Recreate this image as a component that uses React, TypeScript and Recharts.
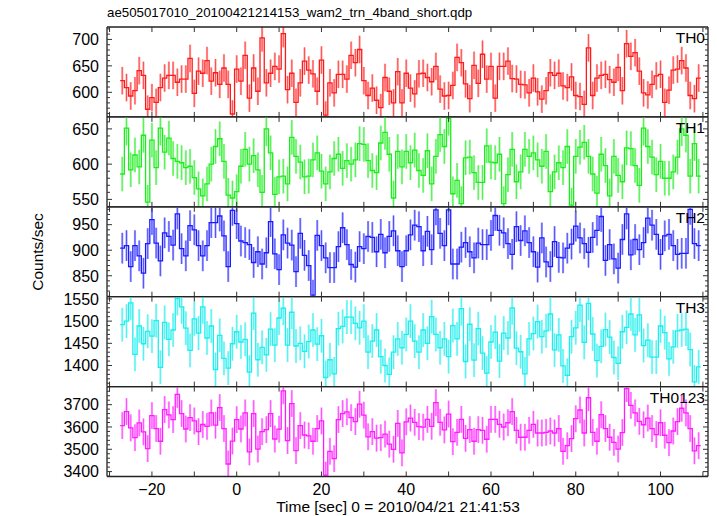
import { ComposedChart, ErrorBar, Line, Scatter, XAxis, YAxis } from 'recharts';

const W = 717;
const H = 516;
const PLOT_LEFT = 107;
const PLOT_RIGHT = 708;
const PLOT_TOP = 27;
const PANEL_H = 89.9;
const FONT = "'Liberation Sans', Arial, Helvetica, sans-serif";

// bin centres, 1 s bins
const times = [
  -27, -26, -25, -24, -23, -22, -21, -20, -19, -18, -17, -16, -15, -14, -13, -12, -11, -10, -9, -8,
  -7, -6, -5, -4, -3, -2, -1, 0, 1, 2, 3, 4, 5, 6, 7, 8, 9, 10, 11, 12,
  13, 14, 15, 16, 17, 18, 19, 20, 21, 22, 23, 24, 25, 26, 27, 28, 29, 30, 31, 32,
  33, 34, 35, 36, 37, 38, 39, 40, 41, 42, 43, 44, 45, 46, 47, 48, 49, 50, 51, 52,
  53, 54, 55, 56, 57, 58, 59, 60, 61, 62, 63, 64, 65, 66, 67, 68, 69, 70, 71, 72,
  73, 74, 75, 76, 77, 78, 79, 80, 81, 82, 83, 84, 85, 86, 87, 88, 89, 90, 91, 92,
  93, 94, 95, 96, 97, 98, 99, 100, 101, 102, 103, 104, 105, 106, 107, 108, 109,
];

const th0 = [
  622, 609, 593, 603, 641, 632, 568, 590, 581, 609,
  627, 632, 632, 619, 625, 625, 664, 598, 640, 636,
  660, 621, 637, 615, 646, 615, 559, 644, 621, 670,
  589, 646, 602, 703, 618, 636, 649, 644, 711, 605,
  636, 581, 618, 659, 642, 635, 602, 661, 557, 618,
  599, 634, 634, 625, 670, 656, 681, 622, 594, 608,
  585, 571, 628, 602, 580, 639, 580, 636, 608, 597,
  635, 636, 628, 620, 649, 606, 593, 594, 613, 666,
  656, 616, 588, 651, 617, 672, 625, 649, 589, 649,
  649, 659, 626, 625, 615, 614, 599, 627, 601, 587,
  603, 637, 632, 636, 612, 609, 629, 594, 592, 577,
  684, 594, 627, 632, 634, 624, 619, 647, 603, 692,
  668, 675, 640, 599, 595, 615, 631, 634, 581, 604,
  642, 644, 660, 646, 594, 588, 627,
];

const th1 = [
  586, 651, 592, 613, 596, 641, 546, 634, 595, 651,
  617, 637, 608, 604, 602, 595, 597, 581, 565, 555,
  572, 600, 625, 636, 604, 556, 552, 561, 597, 621,
  600, 612, 592, 560, 650, 616, 557, 582, 583, 572,
  638, 611, 603, 582, 583, 606, 616, 590, 572, 589,
  608, 614, 594, 605, 600, 606, 629, 628, 605, 591,
  588, 630, 645, 614, 552, 618, 596, 618, 602, 620,
  591, 584, 619, 572, 611, 642, 625, 665, 558, 577,
  544, 609, 610, 588, 574, 574, 626, 603, 602, 614,
  544, 585, 621, 575, 589, 621, 611, 616, 606, 597,
  618, 561, 589, 602, 595, 625, 542, 611, 624, 631,
  611, 586, 559, 614, 598, 555, 611, 584, 575, 623,
  622, 598, 570, 651, 625, 610, 585, 604, 580, 580,
  589, 610, 650, 641, 583, 629, 583,
];

const th2 = [
  904, 909, 868, 909, 889, 855, 913, 960, 914, 879,
  934, 927, 910, 971, 903, 889, 948, 940, 909, 889,
  909, 954, 954, 967, 928, 868, 978, 952, 918, 915,
  911, 876, 897, 873, 895, 956, 893, 862, 930, 914,
  910, 858, 933, 890, 870, 812, 929, 909, 885, 866,
  866, 907, 944, 911, 872, 867, 907, 903, 927, 925,
  897, 931, 895, 927, 938, 899, 868, 899, 930, 949,
  946, 899, 937, 901, 979, 933, 909, 979, 873, 873,
  906, 915, 897, 885, 914, 911, 911, 929, 968, 939,
  934, 913, 892, 946, 919, 938, 915, 897, 867, 924,
  877, 868, 917, 886, 885, 904, 912, 947, 924, 913,
  896, 925, 939, 966, 880, 911, 883, 865, 921, 971,
  891, 921, 901, 915, 963, 949, 931, 892, 928, 931,
  909, 892, 894, 894, 980, 913, 909,
];

const th3 = [
  1492, 1500, 1541, 1425, 1489, 1449, 1477, 1466, 1501, 1396,
  1497, 1459, 1480, 1551, 1532, 1484, 1434, 1505, 1473, 1532,
  1462, 1489, 1391, 1468, 1416, 1394, 1449, 1476, 1453, 1459,
  1385, 1518, 1413, 1441, 1424, 1482, 1446, 1507, 1529, 1446,
  1520, 1444, 1450, 1432, 1454, 1480, 1448, 1467, 1373, 1413,
  1381, 1483, 1488, 1509, 1509, 1495, 1485, 1500, 1430, 1455,
  1480, 1420, 1400, 1380, 1430, 1460, 1440, 1470, 1500, 1455,
  1430, 1480, 1450, 1510, 1470, 1440, 1460, 1420, 1490, 1460,
  1528, 1409, 1493, 1412, 1483, 1428, 1383, 1453, 1475, 1410,
  1473, 1462, 1530, 1439, 1431, 1381, 1460, 1472, 1499, 1465,
  1478, 1516, 1435, 1469, 1399, 1378, 1465, 1485, 1536, 1452,
  1540, 1471, 1411, 1443, 1481, 1464, 1418, 1405, 1476, 1486,
  1516, 1469, 1514, 1445, 1457, 1419, 1419, 1489, 1474, 1415,
  1442, 1478, 1480, 1482, 1436, 1363, 1397,
];

const th0123 = [
  3606, 3669, 3596, 3552, 3618, 3578, 3503, 3651, 3593, 3536,
  3678, 3654, 3633, 3746, 3660, 3591, 3642, 3627, 3579, 3611,
  3603, 3663, 3608, 3687, 3593, 3434, 3537, 3633, 3591, 3663,
  3488, 3660, 3501, 3579, 3588, 3660, 3546, 3590, 3762, 3539,
  3705, 3494, 3606, 3564, 3560, 3536, 3593, 3627, 3384, 3491,
  3458, 3633, 3660, 3668, 3642, 3624, 3702, 3653, 3556, 3579,
  3550, 3552, 3568, 3523, 3500, 3616, 3484, 3623, 3640, 3621,
  3602, 3599, 3634, 3603, 3709, 3621, 3587, 3658, 3534, 3576,
  3634, 3549, 3588, 3536, 3588, 3585, 3545, 3634, 3634, 3612,
  3600, 3619, 3669, 3585, 3554, 3554, 3585, 3612, 3573, 3573,
  3576, 3582, 3573, 3593, 3491, 3516, 3548, 3637, 3676, 3573,
  3731, 3576, 3536, 3655, 3593, 3554, 3531, 3501, 3575, 3772,
  3697, 3663, 3625, 3610, 3640, 3593, 3566, 3619, 3563, 3530,
  3582, 3624, 3684, 3663, 3593, 3493, 3516,
];

// typical 1-sigma half length of the error bars in each panel
const errTh0 = 26;
const errTh1 = 24.5;
const errTh2 = 30;
const errTh3 = 38;
const errTh0123 = 60;

const xTicks = [-30, -20, -10, 0, 10, 20, 30, 40, 50, 60, 70, 80, 90, 100, 110];
const xLabels = [-20, 0, 20, 40, 60, 80, 100];
const X_DOMAIN: [number, number] = [-30.6, 111.2];

const panels = [
  {
    label: 'TH0', values: th0, err: errTh0, color: '#ff1a1a', light: '#ffa6a6',
    domain: [553.5, 723.5], major: [600, 650, 700],
    minor: [560, 570, 580, 590, 610, 620, 630, 640, 660, 670, 680, 690, 710, 720],
  },
  {
    label: 'TH1', values: th1, err: errTh1, color: '#1aee1a', light: '#a6f7a6',
    domain: [539.5, 667], major: [550, 600, 650],
    minor: [540, 560, 570, 580, 590, 610, 620, 630, 640, 660],
  },
  {
    label: 'TH2', values: th2, err: errTh2, color: '#1a1aff', light: '#a6a6ff',
    domain: [809, 985], major: [850, 900, 950],
    minor: [810, 820, 830, 840, 860, 870, 880, 890, 910, 920, 930, 940, 960, 970, 980],
  },
  {
    label: 'TH3', values: th3, err: errTh3, color: '#1aeeee', light: '#a6f7f7',
    domain: [1352.5, 1555], major: [1400, 1450, 1500, 1550],
    minor: [1360, 1370, 1380, 1390, 1410, 1420, 1430, 1440, 1460, 1470, 1480, 1490, 1510, 1520, 1530, 1540],
  },
  {
    label: 'TH0123', values: th0123, err: errTh0123, color: '#ff1aff', light: '#ffa6ff',
    domain: [3378, 3781], major: [3400, 3500, 3600, 3700],
    minor: [3380, 3420, 3440, 3460, 3480, 3520, 3540, 3560, 3580, 3620, 3640, 3660, 3680, 3720, 3740, 3760, 3780],
  },
];

const TICK = '#333';
const minus = (v: number) => String(v).replace('-', '\u2212');

function NoMarker() {
  return <g />;
}

// ticks point into the plot; labels sit outside
function leftTick(major: number[]) {
  return (props: any) => {
    const { x, y, payload } = props;
    const big = major.includes(payload.value);
    return (
      <g>
        <line x1={x} x2={x + (big ? 5 : 3)} y1={y} y2={y} stroke={TICK} />
        {big && (
          <text x={x - 8} y={y} dy="0.36em" textAnchor="end" fontSize={16} fontFamily={FONT} fill="#000">
            {payload.value}
          </text>
        )}
      </g>
    );
  };
}

function rightTick(major: number[]) {
  return (props: any) => {
    const { x, y, payload } = props;
    const big = major.includes(payload.value);
    return <line x1={x} x2={x - (big ? 5 : 3)} y1={y} y2={y} stroke={TICK} />;
  };
}

function bottomTick(withLabels: boolean) {
  return (props: any) => {
    const { x, y, payload } = props;
    return (
      <g>
        <line x1={x} x2={x} y1={y} y2={y - 5} stroke={TICK} />
        {withLabels && xLabels.includes(payload.value) && (
          <text x={x} y={y + 18.5} textAnchor="middle" fontSize={16} fontFamily={FONT} fill="#000">
            {minus(payload.value)}
          </text>
        )}
      </g>
    );
  };
}

function topTick(props: any) {
  const { x, y } = props;
  return <line x1={x} x2={x} y1={y} y2={y + 5} stroke={TICK} />;
}

type PanelDef = (typeof panels)[number];

function Panel({ p, index, last }: { p: PanelDef; index: number; last: boolean }) {
  const top = PLOT_TOP + index * PANEL_H;
  const [lo, hi] = p.domain;
  const edges = p.values.map((v, i) => ({ x: times[i] - 0.5, y: v }));
  edges.push({ x: times[times.length - 1] + 0.5, y: p.values[p.values.length - 1] });
  // error bars are cut at the panel frame, as in the original
  const centers = p.values.map((v, i) => ({
    x: times[i],
    y: v,
    err: [Math.min(p.err, v - lo), Math.min(p.err, hi - v)],
  }));
  const axisLine = { stroke: '#222', strokeWidth: 1.3 };
  const yTicks = [...p.major, ...p.minor].sort((a, b) => a - b);

  return (
    <ComposedChart
      width={W}
      height={H}
      margin={{ top: top - 1, bottom: H - top - PANEL_H - 1, left: PLOT_LEFT - 1, right: W - PLOT_RIGHT - 1 }}
      style={{ position: 'absolute', left: 0, top: 0 }}
    >
      <XAxis xAxisId="b" type="number" dataKey="x" domain={X_DOMAIN} allowDataOverflow ticks={xTicks}
        orientation="bottom" height={1} tickSize={0} tickMargin={0} tickLine={false} axisLine={axisLine}
        tick={bottomTick(last)} interval={0} />
      <XAxis xAxisId="t" type="number" dataKey="x" domain={X_DOMAIN} allowDataOverflow ticks={xTicks}
        orientation="top" height={1} tickSize={0} tickMargin={0} tickLine={false} axisLine={axisLine}
        tick={topTick} interval={0} />
      <YAxis yAxisId="l" type="number" domain={p.domain} allowDataOverflow ticks={yTicks} width={1}
        tickSize={0} tickMargin={0} tickLine={false} axisLine={axisLine} tick={leftTick(p.major)} interval={0} />
      <YAxis yAxisId="r" orientation="right" type="number" domain={p.domain} allowDataOverflow ticks={yTicks}
        width={1} tickSize={0} tickMargin={0} tickLine={false} axisLine={axisLine} tick={rightTick(p.major)}
        interval={0} />
      <Scatter xAxisId="b" yAxisId="l" data={centers} dataKey="y" shape={NoMarker} isAnimationActive={false}>
        <ErrorBar dataKey="err" direction="y" width={0} stroke={p.light} strokeWidth={2.2} />
        <ErrorBar dataKey="err" direction="y" width={0} stroke={p.color} strokeWidth={0.8} strokeOpacity={0.75} />
      </Scatter>
      <Line xAxisId="b" yAxisId="l" data={edges} dataKey="y" type="stepAfter" stroke={p.color}
        strokeWidth={1.3} dot={false} activeDot={false} isAnimationActive={false} />
    </ComposedChart>
  );
}

export default function App() {
  return (
    <div style={{ position: 'absolute', left: 0, top: 0, width: W, height: H, background: '#fff' }}>
      {panels.map((p, i) => (
        <Panel key={p.label} p={p} index={i} last={i === panels.length - 1} />
      ))}
      <svg width={W} height={H} style={{ position: 'absolute', left: 0, top: 0, pointerEvents: 'none' }}>
        <text x={107} y={17} fontSize={13.3} fontFamily={FONT} fill="#000">
          ae505017010_20100421214153_wam2_trn_4band_short.qdp
        </text>
        <text x={43} y={252} fontSize={15.5} fontFamily={FONT} fill="#000" textAnchor="middle"
          transform="rotate(-90 43 252)">
          Counts/sec
        </text>
        <text x={398} y={512} fontSize={15.5} fontFamily={FONT} fill="#000" textAnchor="middle">
          Time [sec] 0 = 2010/04/21 21:41:53
        </text>
        {panels.map((p, i) => (
          <text key={p.label} x={705} y={PLOT_TOP + i * PANEL_H + 16} fontSize={15.5} fontFamily={FONT}
            fill="#000" textAnchor="end">
            {p.label}
          </text>
        ))}
      </svg>
    </div>
  );
}
